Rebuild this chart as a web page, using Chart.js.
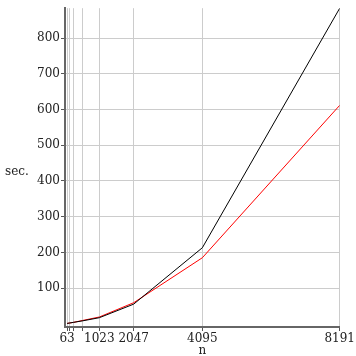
<!DOCTYPE html>
<html>
<head>
<meta charset="utf-8">
<script src="https://cdn.jsdelivr.net/npm/chart.js@4.4.0/dist/chart.umd.min.js"></script>
<style>
  html, body { margin: 0; padding: 0; background: #fff; }
  #wrap { width: 356px; height: 356px; }
</style>
</head>
<body>
<div id="wrap"><canvas id="chart" width="356" height="356"></canvas></div>
<script>
// sizes n and run times in seconds
const nValues = [63, 127, 255, 511, 1023, 2047, 4095, 8191];
const blackSeries = [1, 2, 4, 8, 17, 55, 213, 884];
const redSeries = [1, 2, 4, 9, 19, 59, 185, 612];
const xTickLabels = [63, 1023, 2047, 4095, 8191];
const yTickValues = [100, 200, 300, 400, 500, 600, 700, 800];

const serif = "'DejaVu Serif', serif";

// axis titles drawn horizontally, like the original
const axisTitles = {
    id: 'axisTitles',
    afterDraw(chart) {
        const c = chart.ctx;
        const area = chart.chartArea;
        c.save();
        c.fillStyle = '#222';
        c.font = '12px ' + serif;
        c.textAlign = 'left';
        c.textBaseline = 'middle';
        c.fillText('sec.', 5, 172);
        c.textAlign = 'center';
        c.fillText('n', chart.scales.x.getPixelForValue(4095), 351);
        c.restore();
    }
};

const ctx = document.getElementById('chart').getContext('2d');
const chart = new Chart(ctx, {
    type: 'line',
    data: {
        datasets: [{
            data: nValues.map((n, i) => ({ x: n, y: blackSeries[i] })),
            borderColor: '#000',
            borderWidth: 1,
            pointRadius: 0,
            tension: 0
        }, {
            data: nValues.map((n, i) => ({ x: n, y: redSeries[i] })),
            borderColor: '#f00',
            borderWidth: 1,
            pointRadius: 0,
            tension: 0
        }]
    },
    options: {
        responsive: false,
        animation: false,
        layout: { padding: { top: 8, right: 14, left: 0, bottom: 0 } },
        plugins: { legend: { display: false }, tooltip: { enabled: false } },
        scales: {
            x: {
                type: 'linear',
                min: 0,
                max: 8191,
                afterBuildTicks: s => { s.ticks = nValues.map(v => ({ value: v })); },
                afterFit: s => { s.height = 29; },
                ticks: {
                    autoSkip: false,
                    maxRotation: 0,
                    padding: 1,
                    color: '#222',
                    font: { family: serif, size: 12 },
                    callback: v => xTickLabels.includes(v) ? String(v) : ''
                },
                grid: { color: '#ccc', lineWidth: 1, tickLength: 4, tickColor: '#555' },
                border: { color: '#666', width: 2 }
            },
            y: {
                min: -9,
                max: 884,
                afterBuildTicks: s => { s.ticks = yTickValues.map(v => ({ value: v })); },
                afterFit: s => { s.width = 65; },
                ticks: {
                    padding: 1,
                    color: '#222',
                    font: { family: serif, size: 12 }
                },
                grid: { color: '#ccc', lineWidth: 1, tickLength: 4, tickColor: '#555' },
                border: { color: '#666', width: 2 }
            }
        }
    },
    plugins: [axisTitles]
});
</script>
</body>
</html>
